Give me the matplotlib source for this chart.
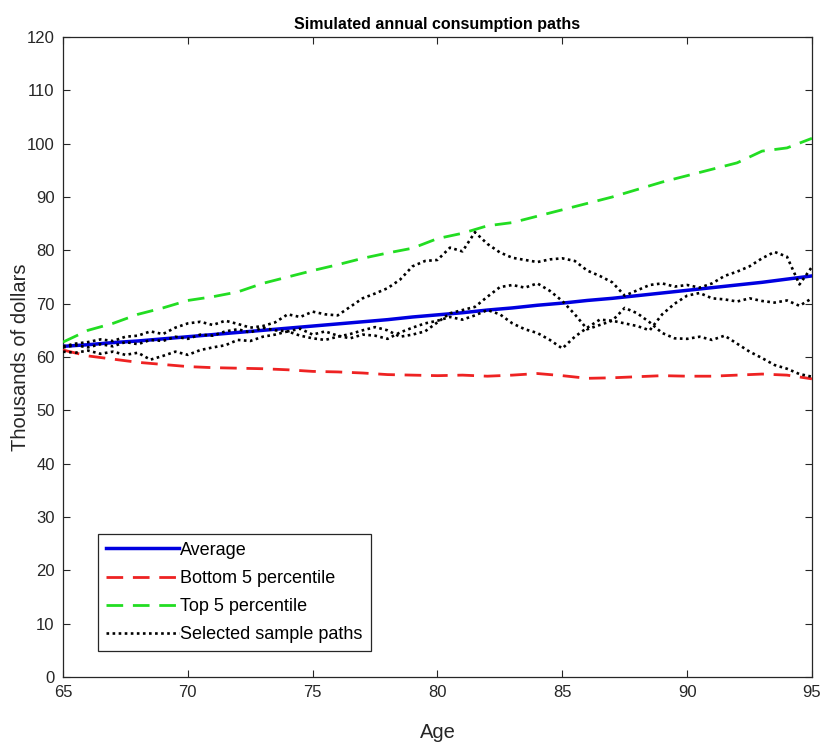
import numpy as np
import matplotlib
matplotlib.use('Agg')
import matplotlib.pyplot as plt

plt.rcParams['font.family'] = ['Liberation Sans', 'DejaVu Sans']

# yearly ages for the smooth summary curves
ages_year = np.arange(65, 96)

avg_path = [62.0, 62.3, 62.7, 63.0, 63.4, 63.8, 64.2, 64.6, 65.0, 65.4, 65.8,
            66.2, 66.6, 67.0, 67.5, 67.9, 68.3, 68.8, 69.2, 69.7, 70.1,
            70.6, 71.0, 71.5, 72.0, 72.5, 73.0, 73.5, 74.0, 74.6, 75.2]

bottom5 = [61.3, 60.2, 59.6, 59.0, 58.6, 58.2, 58.0, 57.9, 57.8, 57.6, 57.3,
           57.2, 57.0, 56.7, 56.6, 56.5, 56.6, 56.4, 56.6, 56.9, 56.5,
           56.0, 56.1, 56.3, 56.5, 56.4, 56.4, 56.6, 56.8, 56.6, 55.9]

top5 = [62.8, 65.0, 66.3, 68.0, 69.2, 70.6, 71.3, 72.2, 73.8, 75.0, 76.2,
        77.3, 78.5, 79.5, 80.4, 82.2, 83.2, 84.6, 85.2, 86.4, 87.6,
        88.8, 90.0, 91.4, 92.8, 94.0, 95.2, 96.4, 98.6, 99.2, 101.0]

# half-year ages for the sample paths
ages_half = np.arange(65, 95.01, 0.5)

path1 = [62.0, 62.5, 62.8, 63.3, 63.0, 63.8, 64.0, 64.8, 64.3, 65.5,
         66.3, 66.6, 66.0, 66.8, 66.2, 65.5, 65.8, 66.5, 68.0, 67.5,
         68.5, 68.0, 67.8, 69.4, 71.0, 71.9, 72.9, 74.5, 77.0, 78.0,
         78.2, 80.5, 79.8, 83.4, 81.2, 79.6, 78.6, 78.2, 77.8, 78.3,
         78.5, 78.0, 76.2, 75.2, 74.0, 71.5, 72.5, 73.5, 73.8, 73.2,
         73.5, 73.0, 73.8, 75.2, 76.0, 77.0, 78.5, 79.7, 78.8, 73.6,
         76.9]

path2 = [61.0, 60.8, 61.2, 60.6, 61.0, 60.4, 60.8, 59.5, 60.2, 61.0,
         60.4, 61.3, 61.8, 62.2, 63.2, 63.0, 63.8, 64.2, 64.8, 64.0,
         63.5, 63.2, 63.8, 64.3, 65.0, 65.6, 65.0, 63.8, 64.2, 64.8,
         66.5, 68.2, 68.8, 69.4, 71.3, 73.1, 73.5, 73.0, 73.8, 72.4,
         70.5, 68.0, 65.2, 66.0, 66.8, 69.2, 68.2, 66.5, 64.5, 63.5,
         63.4, 63.8, 63.2, 64.0, 62.5, 61.0, 59.8, 58.5, 57.8, 56.8,
         56.3]

path3 = [61.8, 62.2, 61.8, 62.4, 62.0, 62.8, 62.4, 63.2, 63.0, 63.8,
         63.4, 64.2, 64.0, 64.8, 65.2, 64.6, 65.5, 65.0, 64.8, 65.3,
         64.2, 64.8, 64.0, 63.5, 64.2, 64.0, 63.4, 64.6, 65.5, 66.3,
         66.8, 67.5, 67.0, 67.8, 68.8, 68.0, 66.3, 65.2, 64.5, 63.2,
         61.6, 63.8, 65.5, 67.0, 66.8, 66.3, 65.8, 65.0, 68.0, 70.0,
         71.5, 72.0, 71.0, 70.8, 70.4, 71.0, 70.5, 70.2, 70.6, 69.6,
         71.0]

sample_paths = [path1, path2, path3]

fig = plt.figure(figsize=(8.25, 7.47), dpi=100)
ax = fig.add_axes([0.0764, 0.0937, 0.9078, 0.8568])

ax.plot(ages_year, avg_path, color='#0000e0', lw=2.5, label='Average', zorder=4)
ax.plot(ages_year, bottom5, color='#ee2222', lw=2, dashes=(6, 3.5),
        label='Bottom 5 percentile', zorder=3)
ax.plot(ages_year, top5, color='#22dd22', lw=2, dashes=(6, 3.5),
        label='Top 5 percentile', zorder=3)
for i, p in enumerate(sample_paths):
    ax.plot(ages_half, p, color='black', lw=1.9, linestyle=(0, (1, 1.3)),
            label='Selected sample paths' if i == 0 else None, zorder=5)

ax.set_xlim(65, 95)
ax.set_ylim(0, 120)
ax.set_xticks(np.arange(65, 96, 5))
ax.set_yticks(np.arange(0, 121, 10))

gray = '#262626'
ax.tick_params(direction='in', top=True, right=True, length=5, width=0.8,
               labelsize=12, colors=gray, pad=6)
for s in ax.spines.values():
    s.set_color(gray)
    s.set_linewidth(0.9)

ax.set_title('Simulated annual consumption paths', fontsize=11.5,
             fontweight='bold', color='black', pad=6)
ax.set_xlabel('Age', fontsize=14.5, color=gray, labelpad=16)
ax.set_ylabel('Thousands of dollars', fontsize=14.5, color=gray, labelpad=-2)

leg = ax.legend(loc='lower left', bbox_to_anchor=(0.047, 0.04), borderaxespad=0,
                fontsize=13, handlelength=4.0, handletextpad=0.1,
                labelspacing=0.62, borderpad=0.45, fancybox=False,
                framealpha=1, edgecolor=gray)
leg.get_frame().set_linewidth(0.9)

fig.savefig('out.png', dpi=100)
